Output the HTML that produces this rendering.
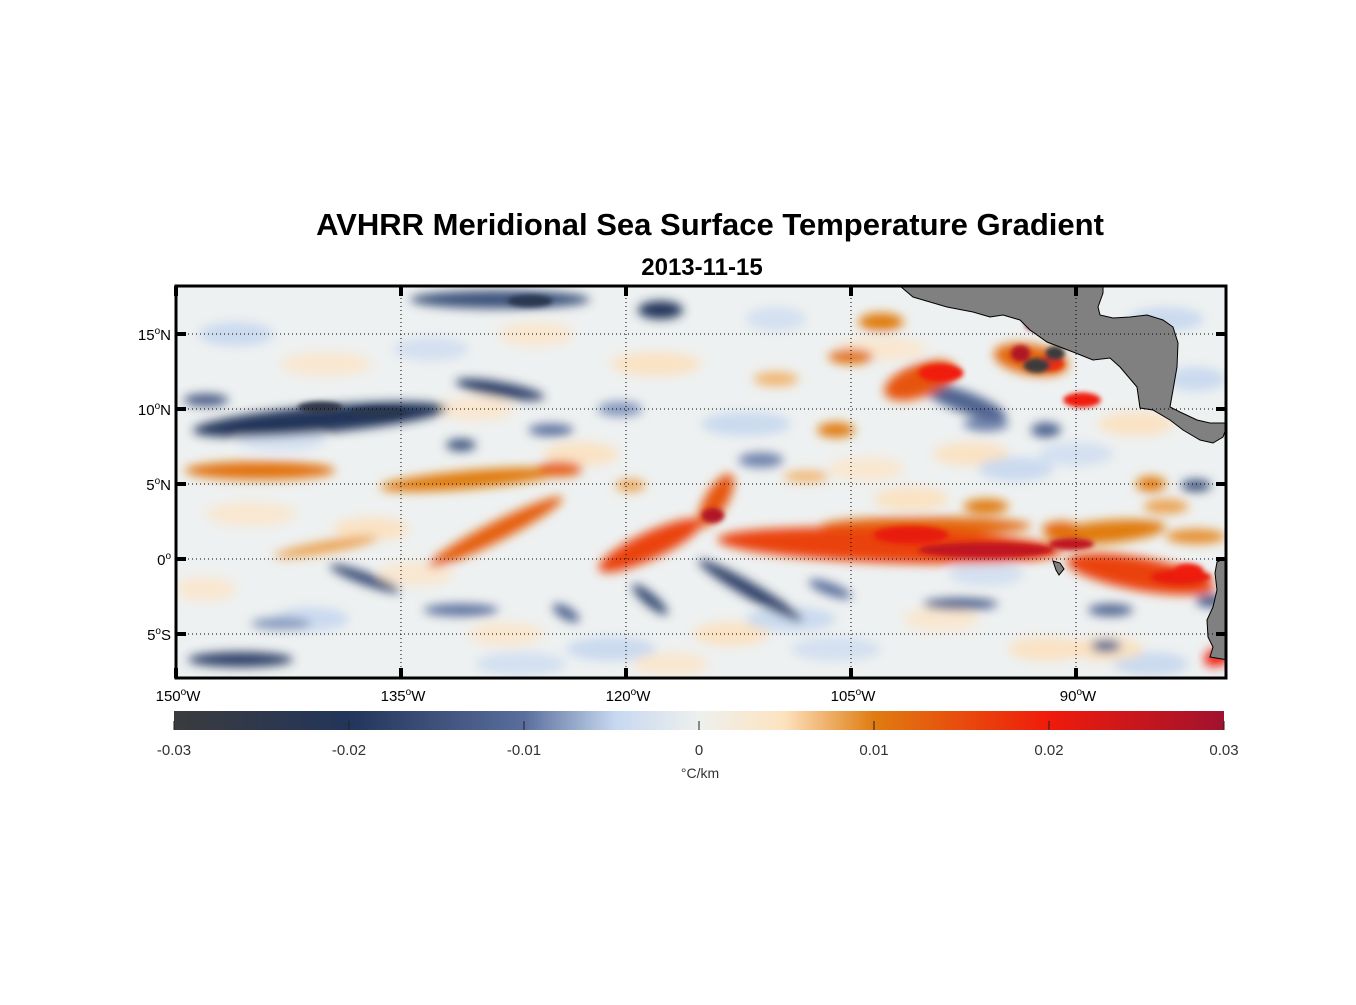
<!DOCTYPE html>
<html><head><meta charset="utf-8"><style>
body{margin:0;background:#fff;width:1356px;height:1000px;overflow:hidden;font-family:"Liberation Sans",Arial,sans-serif}
svg text{font-family:"Liberation Sans",Arial,sans-serif}
</style></head><body>
<svg id="c" width="1356" height="1000" viewBox="0 0 1356 1000">
<defs>
<clipPath id="mapclip"><rect x="176" y="286" width="1050" height="392"/></clipPath>
<filter id="bl" x="-50%" y="-50%" width="200%" height="200%"><feGaussianBlur stdDeviation="5"/></filter>
<filter id="bl2" x="-50%" y="-50%" width="200%" height="200%"><feGaussianBlur stdDeviation="2.5"/></filter>
<linearGradient id="cbar" x1="0" x2="1" y1="0" y2="0">
<stop offset="0" stop-color="#3b3b3e"/><stop offset="0.1667" stop-color="#22355a"/>
<stop offset="0.3333" stop-color="#5a6e9c"/><stop offset="0.42" stop-color="#c6d8f0"/>
<stop offset="0.5" stop-color="#eef0ee"/><stop offset="0.58" stop-color="#fde3c0"/>
<stop offset="0.6667" stop-color="#e07c10"/><stop offset="0.8333" stop-color="#f01b0b"/>
<stop offset="1" stop-color="#a0122e"/></linearGradient>
</defs>
<text x="710" y="235" text-anchor="middle" font-size="31" font-weight="bold">AVHRR Meridional Sea Surface Temperature Gradient</text>
<text x="702" y="275" text-anchor="middle" font-size="24" font-weight="bold">2013-11-15</text>
<g clip-path="url(#mapclip)">
<rect x="176" y="286" width="1050" height="392" fill="#eef1f1"/>
<g id="blobs" filter="url(#bl)"></g>
<g id="cores" filter="url(#bl2)"></g>
<g id="land"></g>
<g id="grid"></g>
</g>
<rect x="176" y="286" width="1050" height="392" fill="none" stroke="#000" stroke-width="3"/>
<g id="ticks"></g>
<rect x="174" y="711" width="1050" height="19" fill="url(#cbar)"/>
<g id="cbticks"></g>
<text x="700" y="778" text-anchor="middle" font-size="14" fill="#333">°C/km</text>
</svg>
<script>
// faint background texture patches: lon, lat, len, wid, angle, value
const bgLon=[-146,-140,-133,-126,-118,-110,-103,-97,-90,-84,-145,-137,-128,-121,-113,-106,-99,-92,-85,-148,-141,-134,-127,-117,-109,-101,-94,-86,-143,-130,-123,-112,-104,-96,-88,-82];
const bgLat=[15,13,14,15,13,16,14,7,7,16,3,2,-5,-6,-5,-6,-4,-6,-7,-2,-4,-1,-7,-7,-4,4,6,9,8,10,7,9,6,-1,-6,12];
const bgLen=[5,6,5,5,6,4,6,5,5,5,6,5,5,6,5,6,5,5,5,4,5,5,6,5,6,5,5,5,6,5,5,6,5,5,5,4];
const bgVal=[-0.005,0.004,-0.004,0.004,0.005,-0.004,0.004,0.005,-0.004,-0.005,0.004,0.005,0.004,-0.005,0.005,-0.004,0.004,0.005,-0.005,0.004,-0.005,0.004,-0.004,0.004,-0.005,0.005,-0.005,0.005,-0.004,0.004,0.005,-0.005,0.004,-0.004,0.005,-0.005];
// feature blobs: lon, lat, lengthDeg, widthDeg, angle, value
const blobLon=[-102.4,-118.4,-114,-128.7,-144.4,-130.4,-124.4,-140,-85.7,-100.4,-103,-93,-106,-80.5,-85,-96,-91,-140.4,-128.4,-117.7,-128.4,-97.5,-111.7,-118.4,-137.4,-145.7,-131,-97.7,-148,-125,-131,-82,-92,-81,-88,-124,-106.4,-100,-88,-119.7,-105,-120.4,-111,-96,-87.7,-84,-82,-110,-143,-108];
const blobLat=[0.9,0.9,3.9,1.8,5.9,5.3,6,0.8,-1,11.9,15.8,13.3,8.6,-6.5,5,3.5,2,9.3,17.3,16.6,11.3,10.5,-2.1,-2.7,-1.3,-6.7,-3.4,-3,10.6,8.6,7.6,4.9,8.6,-2.8,-5.8,-3.6,-2,2.2,1.8,4.9,13.5,10,6.6,9,-3.4,3.5,1.5,12,-4.3,5.5];
const blobLen=[23,7.5,4,10,10,12,3,7,10,5,3,5,2.5,2,2,3,2.5,17,12,3,6,6,8,3,5,7,5,5,3,3,2,2,2,2,2,2,3,14,8,2,3,3,3,3,3,3,4,3,4,3];
const blobWid=[2.3,1.8,1.5,1.3,1.2,1.2,1,0.8,2.2,2.2,1.2,2,1,1.2,1,1,1,1.8,1.2,1.2,1,1.4,1,0.8,0.8,1,0.8,0.8,0.8,0.8,0.8,0.8,1,0.8,0.8,0.8,0.8,1.2,1.5,0.8,1,1,1,1,0.8,1,1,1,0.8,0.8];
const blobAng=[2,-25,-60,-27,0,-5,0,-10,10,-20,0,10,0,-20,0,0,0,-5,0,0,10,20,30,40,20,0,0,0,0,0,0,0,0,0,0,30,20,0,-5,0,0,0,0,0,0,0,0,0,0,0];
const blobVal=[0.016,0.016,0.014,0.013,0.011,0.010,0.013,0.008,0.016,0.014,0.010,0.012,0.010,0.020,0.010,0.010,0.012,-0.02,-0.015,-0.02,-0.018,-0.012,-0.018,-0.017,-0.016,-0.018,-0.01,-0.012,-0.014,-0.01,-0.015,-0.015,-0.012,-0.014,-0.012,-0.012,-0.01,0.012,0.010,0.008,0.011,-0.008,-0.009,-0.009,-0.012,0.008,0.009,0.007,-0.008,0.007];
// intense cores
const coreLon=[-96,-101,-114.2,-83,-99,-89.6,-91.8,-92.1,-93.7,-91.4,-92.6,-140.4,-126.4,-136.5,-82.5,-90.3];
const coreLat=[0.6,1.6,2.9,-1.2,12.4,10.6,13,15.6,13.7,13.7,12.9,10.1,17.2,9.8,-0.8,1];
const coreLen=[9,5,1.5,4,3,2.5,2,2.6,1.3,1.3,1.8,3,3,4,2,3];
const coreWid=[1,1.2,1,1,1.2,1,1,0.9,1.1,1,1,0.8,0.8,0.7,1,0.8];
const coreVal=[0.026,0.021,0.028,0.021,0.02,0.02,0.018,0.03,0.028,-0.03,-0.03,-0.026,-0.024,-0.024,0.02,0.026];
const latTicks=[15,10,5,0,-5];
const latLabels=["15","10","5","0","5"];
const latHemi=["N","N","N","",  "S"];
const lonTicks=[-150,-135,-120,-105,-90];
const cbTicks=[-0.03,-0.02,-0.01,0,0.01,0.02,0.03];
const cbLabels=["-0.03","-0.02","-0.01","0","0.01","0.02","0.03"];
// land outlines
const caX=[900,913,947,973,990,1003,1020,1030,1047,1073,1093,1110,1120,1137,1140,1153,1170,1183,1200,1213,1223,1228,1228,1210,1197,1180,1170,1173,1177,1178,1173,1163,1147,1130,1113,1100,1098,1103,1103];
const caY=[286,297,307,312,317,315,320,330,342,352,360,358,367,387,408,410,420,430,440,443,437,423,423,423,420,412,407,390,367,343,327,320,315,317,318,315,307,293,286];
const saX=[1228,1225,1217,1215,1217,1213,1207,1208,1213,1210,1228];
const saY=[558,558,562,573,590,607,620,637,647,657,660];
const ns='http://www.w3.org/2000/svg';
const X=lon=>176+(lon+150)*15;
const Y=lat=>559-lat*15;
const CB=v=>699+v*17500;
const stops=[[-0.03,[59,59,62]],[-0.02,[34,53,90]],[-0.01,[90,110,156]],[-0.0048,[198,216,240]],[0,[238,240,238]],[0.0048,[253,227,192]],[0.01,[224,124,16]],[0.02,[240,27,11]],[0.03,[160,18,46]]];
function cmap(v){v=Math.max(-0.03,Math.min(0.03,v));for(let i=0;i<stops.length-1;i++){const a=stops[i],b=stops[i+1];if(v<=b[0]){const t=(v-a[0])/(b[0]-a[0]);const c=a[1].map((q,k)=>Math.round(q+(b[1][k]-q)*t));return 'rgb('+c.join(',')+')';}}return 'rgb(160,18,46)';}
function mk(tag,at,parent){const e=document.createElementNS(ns,tag);for(const k in at)e.setAttribute(k,at[k]);parent.appendChild(e);return e;}
const gB=document.getElementById('blobs');
bgVal.forEach((v,i)=>{
  const e=mk('ellipse',{cx:X(bgLon[i]),cy:Y(bgLat[i]),rx:bgLen[i]*7.5,ry:12,fill:cmap(v),opacity:0.8},gB);
  
  
});
const order=blobVal.map((v,i)=>i).sort((a,b)=>Math.abs(blobVal[a])-Math.abs(blobVal[b]));
order.forEach(i=>{
  const cx=X(blobLon[i]),cy=Y(blobLat[i]);
  const e=mk('ellipse',{cx:cx,cy:cy,rx:blobLen[i]*7.5,ry:blobWid[i]*7.5,fill:cmap(blobVal[i]),transform:'rotate('+blobAng[i]+' '+cx+' '+cy+')'},gB);
  
  
});
const gC=document.getElementById('cores');
coreVal.forEach((v,i)=>{
  const e=mk('ellipse',{cx:X(coreLon[i]),cy:Y(coreLat[i]),rx:coreLen[i]*7.5,ry:coreWid[i]*7.5,fill:cmap(v)},gC);
  
  
});
const gL=document.getElementById('land');
function poly(xs,ys,name){const p=mk('polygon',{points:xs.map((x,i)=>x+','+ys[i]).join(' '),fill:'#808080',stroke:'#000','stroke-width':1},gL);
  
  }
poly(caX,caY,'central-america-land');
poly(saX,saY,'south-america-land');
const gal=mk('polygon',{points:'1053,561 1060,563 1064,569 1059,575 1056,570',fill:'#808080',stroke:'#000','stroke-width':1},gL);


const gG=document.getElementById('grid');
lonTicks.slice(1).forEach(l=>{const e=mk('line',{x1:X(l),x2:X(l),y1:286,y2:678,stroke:'#000','stroke-width':1,'stroke-dasharray':'1 3'},gG);
  
  });
latTicks.forEach(l=>{const e=mk('line',{x1:176,x2:1226,y1:Y(l),y2:Y(l),stroke:'#000','stroke-width':1,'stroke-dasharray':'1 3'},gG);
  
  });
const gT=document.getElementById('ticks');
lonTicks.forEach(l=>{
  [[286,296],[668,678]].forEach(r=>{const e=mk('line',{x1:X(l),x2:X(l),y1:r[0],y2:r[1],stroke:'#000','stroke-width':4},gT);
    
    });
  const t=mk('text',{x:X(l)+2,y:701,'text-anchor':'middle','font-size':15},gT);
  
  
  t.innerHTML=(-l)+'<tspan dy="-6" font-size="10">o</tspan><tspan dy="6">W</tspan>';
});
latTicks.forEach((l,i)=>{
  [[176,186],[1216,1226]].forEach(r=>{const e=mk('line',{x1:r[0],x2:r[1],y1:Y(l),y2:Y(l),stroke:'#000','stroke-width':4},gT);
    
    });
  const t=mk('text',{x:171,y:Y(l)+6,'text-anchor':'end','font-size':15},gT);
  
  
  t.innerHTML=latLabels[i]+'<tspan dy="-6" font-size="10">o</tspan><tspan dy="6">'+latHemi[i]+'</tspan>';
});
const gCB=document.getElementById('cbticks');
cbTicks.forEach((v,i)=>{
  const e=mk('line',{x1:CB(v),x2:CB(v),y1:721,y2:730,stroke:'#222','stroke-width':1},gCB);
  
  
  const t=mk('text',{x:CB(v),y:755,'text-anchor':'middle','font-size':15,fill:'#333'},gCB);
  
  
  t.textContent=cbLabels[i];
});
</script>
</body></html>
